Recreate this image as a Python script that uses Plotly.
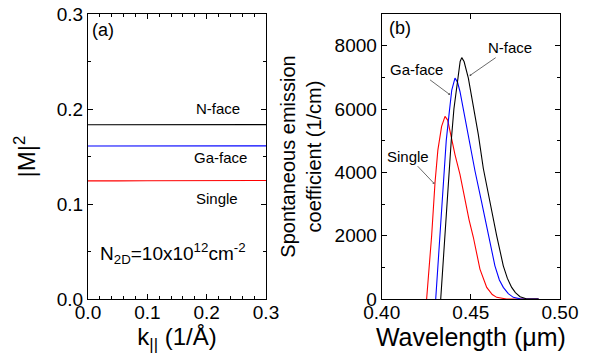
import plotly.graph_objects as go

# ---- Panel (a) data ----
k_vals = [0.0, 0.02, 0.05, 0.1, 0.15, 0.2, 0.25, 0.3]
m2_nface = [0.1835, 0.1835, 0.1835, 0.1835, 0.1836, 0.1836, 0.1836, 0.1836]
m2_gaface = [0.1610, 0.1610, 0.1610, 0.1611, 0.1611, 0.1611, 0.1612, 0.1612]
m2_single = [0.1243, 0.1241, 0.1243, 0.1245, 0.1246, 0.1247, 0.1248, 0.1248]

# ---- Panel (b) data ----
wl_single = [0.4252, 0.4266, 0.4280, 0.4299, 0.4315, 0.4336, 0.4355, 0.4370, 0.4383,
             0.4411, 0.4439, 0.4467, 0.4490, 0.4514, 0.4551, 0.4589, 0.4620, 0.4645,
             0.4700, 0.4880]
sp_single = [0, 1000, 1992, 3671, 4700, 5450, 5767, 5650, 5300,
             4561, 3932, 3100, 2500, 1950, 944, 367, 140, 52,
             0, 0]

wl_gaface = [0.4303, 0.4315, 0.4327, 0.4346, 0.4362, 0.4379, 0.4393, 0.4411, 0.4425,
             0.4439, 0.4467, 0.4495, 0.4523, 0.4561, 0.4598, 0.4635, 0.4660, 0.4682,
             0.4710, 0.4738, 0.4776, 0.4880]
sp_gaface = [0, 1000, 1992, 3900, 5000, 5900, 6600, 6974, 6850,
             6553, 5716, 4876, 4050, 3042, 1992, 1048, 600, 367,
             170, 52, 5, 0]

wl_nface = [0.4331, 0.4343, 0.4355, 0.4375, 0.4390, 0.4405, 0.4426, 0.4440, 0.4449,
            0.4462, 0.4486, 0.4514, 0.4542, 0.4570, 0.4607, 0.4645, 0.4682, 0.4705,
            0.4729, 0.4750, 0.4776, 0.4810, 0.4880]
sp_nface = [0, 1000, 1992, 3900, 5000, 6000, 6974, 7500, 7623,
            7500, 6974, 6134, 5190, 4120, 3042, 1992, 1048, 650,
            367, 200, 73, 10, 0]

FONT = "Liberation Sans, Arial, sans-serif"

fig = go.Figure()
line_w = 1.1
fig.add_trace(go.Scatter(x=k_vals, y=m2_nface, mode="lines", line=dict(color="black", width=line_w), xaxis="x", yaxis="y"))
fig.add_trace(go.Scatter(x=k_vals, y=m2_gaface, mode="lines", line=dict(color="#0000ff", width=line_w), xaxis="x", yaxis="y"))
fig.add_trace(go.Scatter(x=k_vals, y=m2_single, mode="lines", line=dict(color="#ff0000", width=line_w), xaxis="x", yaxis="y"))

fig.add_trace(go.Scatter(x=wl_single, y=sp_single, mode="lines", line=dict(color="#ff0000", width=line_w), xaxis="x2", yaxis="y2"))
fig.add_trace(go.Scatter(x=wl_gaface, y=sp_gaface, mode="lines", line=dict(color="#0000ff", width=line_w), xaxis="x2", yaxis="y2"))
fig.add_trace(go.Scatter(x=wl_nface, y=sp_nface, mode="lines", line=dict(color="black", width=line_w), xaxis="x2", yaxis="y2"))

axis_common = dict(showline=True, linecolor="black", linewidth=1, mirror="allticks",
                   ticks="inside", ticklen=5, tickcolor="black", tickwidth=1,
                   showgrid=False, zeroline=False, automargin=False,
                   tickfont=dict(family=FONT, size=19, color="black"))

plot_w = 589 - 88 - 29
fig.update_layout(
    width=589, height=360, autosize=False,
    margin=dict(l=88, r=29, t=14, b=61),
    paper_bgcolor="white", plot_bgcolor="white",
    showlegend=False,
    font=dict(family=FONT, color="black"),
    xaxis=dict(domain=[0, 178 / plot_w], range=[0, 0.3], tickvals=[0, 0.1, 0.2, 0.3],
               ticktext=["0.0", "0.1", "0.2", "0.3"], ticklabelstandoff=-4,
               minor=dict(ticks="inside", dtick=0.02, ticklen=3, tickcolor="black"),
               title=dict(text="k<sub>||</sub> (1/Å)", font=dict(family=FONT, size=24), standoff=4),
               anchor="y", **axis_common),
    yaxis=dict(domain=[0, 1], range=[0, 0.3], tickvals=[0, 0.1, 0.2, 0.3],
               ticktext=["0.0", "0.1", "0.2", "0.3"],
               minor=dict(ticks="inside", dtick=0.05, ticklen=3, tickcolor="black"),
               title=dict(text="|M|<sup>2</sup>", font=dict(family=FONT, size=24), standoff=14),
               anchor="x", **axis_common),
    xaxis2=dict(domain=[(381.7 - 88) / plot_w, 1.0], range=[0.40, 0.50], tickvals=[0.40, 0.45, 0.50],
                ticktext=["0.40", "0.45", "0.50"], ticklabelstandoff=-4,
                title=dict(text="Wavelength (μm)", font=dict(family=FONT, size=25), standoff=4),
                anchor="y2", **axis_common),
    yaxis2=dict(domain=[0, 1], range=[0, 9000], tickvals=[0, 2000, 4000, 6000, 8000],
                ticktext=["0", "2000", "4000", "6000", "8000"],
                minor=dict(ticks="inside", dtick=1000, ticklen=3, tickcolor="black"),
                title=dict(text="Spontaneous emission<br>coefficient (1/cm)", font=dict(family=FONT, size=20), standoff=7),
                anchor="x2", **axis_common),
)

ann_font = dict(family=FONT, size=15, color="black")
annotations = [
    dict(x=0.0253, y=0.283, xref="x", yref="y", text="(a)", showarrow=False, font=dict(family=FONT, size=18, color="black")),
    dict(x=0.219, y=0.2007, xref="x", yref="y", text="N-face", showarrow=False, font=ann_font),
    dict(x=0.224, y=0.149, xref="x", yref="y", text="Ga-face", showarrow=False, font=ann_font),
    dict(x=0.217, y=0.106, xref="x", yref="y", text="Single", showarrow=False, font=ann_font),
    dict(x=0.143, y=0.0475, xref="x", yref="y", text="N<sub>2D</sub>=10x10<sup>12</sup>cm<sup>-2</sup>",
         showarrow=False, font=dict(family=FONT, size=19, color="black")),
    dict(x=0.4103, y=8547, xref="x2", yref="y2", text="(b)", showarrow=False, font=dict(family=FONT, size=18, color="black")),
    dict(x=0.4493, y=7050, xref="x2", yref="y2", ax=0.4720, ay=7937, axref="x2", ayref="y2",
         text="N-face", showarrow=True, arrowhead=1, arrowsize=0.6, arrowwidth=0.8, arrowcolor="#444", font=ann_font),
    dict(x=0.4383, y=6450, xref="x2", yref="y2", ax=0.4196, ay=7235, axref="x2", ayref="y2",
         text="Ga-face", showarrow=True, arrowhead=1, arrowsize=0.6, arrowwidth=0.8, arrowcolor="#444", font=ann_font),
    dict(x=0.4295, y=3640, xref="x2", yref="y2", ax=0.4149, ay=4508, axref="x2", ayref="y2",
         text="Single", showarrow=True, arrowhead=1, arrowsize=0.6, arrowwidth=0.8, arrowcolor="#444", font=ann_font),
]
fig.update_layout(annotations=annotations)

fig.write_html("out.html", config={"displayModeBar": False},
               post_script="document.body.style.margin='0';document.body.style.padding='0';")
